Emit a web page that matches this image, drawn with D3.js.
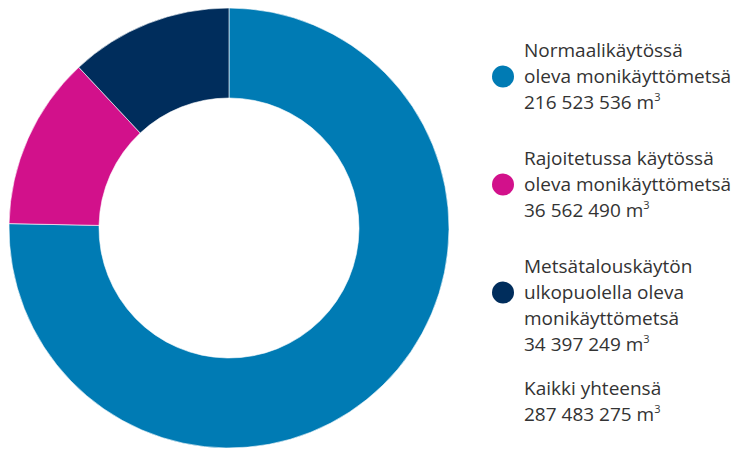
<!DOCTYPE html>
<html>
<head>
<meta charset="utf-8">
<script src="https://cdn.jsdelivr.net/npm/d3@7"></script>
<style>
  body { margin: 0; background: #fff; }
  text { font-family: "Open Sans", sans-serif; fill: #333; }
</style>
</head>
<body>
<script>
const width = 733;
const height = 449;

// data
const labels = [
  ["Normaalikäytössä", "oleva monikäyttömetsä"],
  ["Rajoitetussa käytössä", "oleva monikäyttömetsä"],
  ["Metsätalouskäytön", "ulkopuolella oleva", "monikäyttömetsä"]
];
const values = [216523536, 36562490, 34397249];
const colors = ["#007bb4", "#d2118b", "#002d5c"];
const totalLabel = "Kaikki yhteensä";
const total = 287483275;

const fmt = (v) => d3.format(",")(v).replace(/,/g, " ");

const svg = d3.create("svg").attr("width", width).attr("height", height);

const cx = 229, cy = 228;
const outer = 220, inner = 130;

const pie = d3.pie().sort(null).value((d) => d);
const arc = d3.arc().innerRadius(inner).outerRadius(outer);

svg
  .append("g")
  .attr("transform", `translate(${cx},${cy})`)
  .selectAll("path")
  .data(pie(values))
  .join("path")
  .attr("d", arc)
  .attr("fill", (d, i) => colors[i])
  .attr("stroke", "#fff")
  .attr("stroke-width", 0.6);

// legend
const lx = 524;
const lineH = 26;
const starts = [57, 165, 273];
const fontSize = 19;

function addValue(t, v) {
  t.append("tspan").text(fmt(v) + " m");
  t.append("tspan").text("3").attr("font-size", 11).attr("dy", -8);
}

labels.forEach((lines, i) => {
  const g = svg.append("g");
  const n = lines.length + 1;
  const midY = starts[i] + ((n - 1) * lineH) / 2 - 6.5;
  g.append("circle")
    .attr("cx", 503)
    .attr("cy", midY + (n === 4 ? -13 : 0))
    .attr("r", 11)
    .attr("fill", colors[i]);
  lines.forEach((l, j) => {
    g.append("text")
      .attr("x", lx)
      .attr("y", starts[i] + j * lineH)
      .attr("font-size", fontSize)
      .text(l);
  });
  const t = g.append("text")
    .attr("x", lx)
    .attr("y", starts[i] + lines.length * lineH)
    .attr("font-size", fontSize);
  addValue(t, values[i]);
});

svg.append("text")
  .attr("x", lx).attr("y", 395).attr("font-size", fontSize)
  .text(totalLabel);
const tt = svg.append("text")
  .attr("x", lx).attr("y", 421).attr("font-size", fontSize);
addValue(tt, total);

document.body.appendChild(svg.node());
</script>
</body>
</html>
